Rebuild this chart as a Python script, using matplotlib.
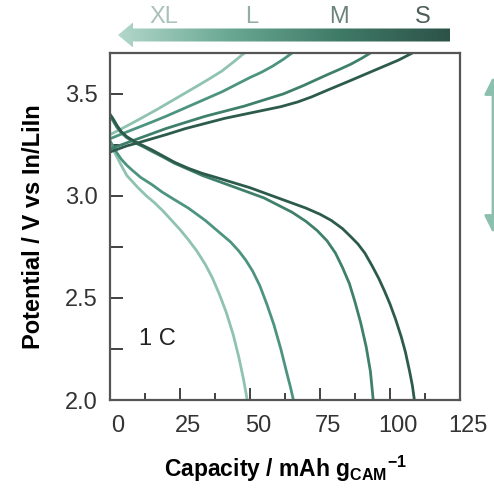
import numpy as np
import matplotlib
matplotlib.use("Agg")
import matplotlib.pyplot as plt
from matplotlib.patches import Polygon
from matplotlib.colors import LinearSegmentedColormap
from matplotlib.transforms import ScaledTranslation

plt.rcParams['font.family'] = ['Liberation Sans', 'DejaVu Sans']
plt.rcParams['mathtext.fontset'] = 'custom'
plt.rcParams['mathtext.rm'] = 'Liberation Sans'
plt.rcParams['mathtext.bf'] = 'Liberation Sans:bold'

# particle size series, drawn light -> dark
sizes = ['XL', 'L', 'M', 'S']
colors = ['#8fc3b0', '#4d9480', '#3f806c', '#2c5b4c']

# charge curves (capacity mAh/g, potential V)
cap_chg_XL = [0, 4, 8, 12, 17, 22, 27, 32, 36, 40, 44, 48]
v_chg_XL = [3.30, 3.328, 3.357, 3.387, 3.425, 3.465, 3.505, 3.545, 3.578, 3.612, 3.655, 3.70]
cap_chg_L = [0, 5, 10, 15, 20, 25, 30, 35, 40, 45, 50, 54, 58, 62, 65]
v_chg_L = [3.28, 3.308, 3.335, 3.362, 3.39, 3.42, 3.45, 3.48, 3.51, 3.545, 3.58, 3.605, 3.635, 3.67, 3.70]
cap_chg_M = [0, 3, 6, 10, 15, 20, 27, 34, 41, 48, 55, 62, 69, 77, 82, 86, 90, 93]
v_chg_M = [3.23, 3.245, 3.26, 3.28, 3.305, 3.33, 3.36, 3.39, 3.415, 3.44, 3.47, 3.50, 3.54, 3.59,
           3.62, 3.645, 3.675, 3.70]
cap_chg_S = [0, 3, 6, 10, 15, 20, 27, 34, 41, 48, 55, 61, 67, 72, 78, 85, 91, 97, 103, 108]
v_chg_S = [3.215, 3.23, 3.245, 3.26, 3.28, 3.30, 3.33, 3.355, 3.38, 3.40, 3.42, 3.437, 3.46,
           3.485, 3.52, 3.56, 3.595, 3.63, 3.665, 3.70]

# discharge curves
cap_dis_XL = [0, 1, 2.5, 4, 6, 8, 10, 13, 16, 19, 22, 25, 28, 31, 34, 36.5, 39, 41.5, 44, 46,
              47.7, 49]
v_dis_XL = [3.26, 3.23, 3.19, 3.15, 3.10, 3.07, 3.04, 3.00, 2.965, 2.925, 2.88, 2.835, 2.785,
            2.73, 2.665, 2.60, 2.52, 2.43, 2.32, 2.21, 2.10, 2.00]
cap_dis_L = [0, 1, 2.5, 4, 6, 8, 11, 15, 18.5, 22, 25, 28, 31, 34, 37, 40, 43, 46, 48.5, 51,
             53.5, 56, 58.5, 61, 63, 64.5, 65.5]
v_dis_L = [3.27, 3.245, 3.21, 3.18, 3.15, 3.125, 3.09, 3.055, 3.02, 2.99, 2.965, 2.94, 2.91,
           2.88, 2.845, 2.81, 2.775, 2.73, 2.685, 2.63, 2.56, 2.47, 2.37, 2.25, 2.14, 2.06, 2.00]
cap_dis_M = [0, 1, 2.5, 4, 6, 9, 12, 15, 19, 23, 28, 33, 38, 44, 50, 55, 60, 65, 70, 74, 77.5,
             80.5, 83, 85.5, 87.5, 89.5, 91.5, 93, 94]
v_dis_M = [3.39, 3.37, 3.335, 3.31, 3.285, 3.26, 3.24, 3.218, 3.19, 3.16, 3.13, 3.10, 3.075,
           3.045, 3.015, 2.99, 2.955, 2.92, 2.875, 2.83, 2.78, 2.72, 2.65, 2.57, 2.48, 2.38,
           2.26, 2.14, 2.00]
cap_dis_S = [0, 1, 2.5, 4, 6, 9, 12, 15, 19, 23, 28, 33, 38, 44, 50, 55, 61, 66, 70, 75, 79, 83,
             86, 88.5, 91, 93.5, 96, 98, 100, 102, 104, 105.5, 107, 108, 108.7]
v_dis_S = [3.40, 3.38, 3.345, 3.315, 3.29, 3.265, 3.245, 3.225, 3.195, 3.165, 3.135, 3.11, 3.09,
           3.065, 3.04, 3.015, 2.985, 2.96, 2.94, 2.91, 2.88, 2.84, 2.80, 2.765, 2.72, 2.66,
           2.595, 2.535, 2.47, 2.395, 2.31, 2.235, 2.14, 2.07, 2.00]

charge = {'XL': (cap_chg_XL, v_chg_XL), 'L': (cap_chg_L, v_chg_L),
          'M': (cap_chg_M, v_chg_M), 'S': (cap_chg_S, v_chg_S)}
discharge = {'XL': (cap_dis_XL, v_dis_XL), 'L': (cap_dis_L, v_dis_L),
             'M': (cap_dis_M, v_dis_M), 'S': (cap_dis_S, v_dis_S)}

xticks = [0, 25, 50, 75, 100, 125]
yticks = [2.0, 2.5, 3.0, 3.5]

fig = plt.figure(figsize=(4.94, 4.88), dpi=100)
ax = fig.add_axes([0.2227, 0.1803, 0.7085, 0.7111])

for name, col in zip(sizes, colors):
    for data in (charge, discharge):
        x, y = data[name]
        ax.plot(x, y, color=col, lw=2.0, solid_capstyle='round', solid_joinstyle='round')

ax.set_xlim(0, 125)
ax.set_ylim(2.0, 3.7)
ax.set_xticks(xticks)
ax.set_xticks(np.arange(0, 126, 12.5), minor=True)
ax.set_yticks(yticks)
ax.set_yticklabels(['%.1f' % v for v in yticks])
ax.set_yticks(np.arange(2.0, 3.71, 0.25), minor=True)
ax.tick_params(which='both', direction='in', width=1.3, colors='#333333', labelsize=17)
ax.tick_params(axis='x', which='major', length=9, pad=11)
ax.tick_params(axis='x', which='minor', length=5)
ax.tick_params(axis='y', which='both', length=9, pad=9)
for sp in ax.spines.values():
    sp.set_color('#555555')
    sp.set_linewidth(1.6)
for lab in ax.get_xticklabels():
    lab.set_transform(lab.get_transform() + ScaledTranslation(0.08, 0, fig.dpi_scale_trans))

ax.set_xlabel(r'Capacity / mAh g$_\mathbf{CAM}$$^{\mathbf{-1}}$', fontsize=16.5,
              fontweight='bold', labelpad=12)
ax.set_ylabel('Potential / V vs In/LiIn', fontsize=17, fontweight='bold', labelpad=14)
ax.text(10.5, 2.30, '1 C', fontsize=17, ha='left', va='center', color='#222222')

# overlay in figure pixel coordinates for the decorations
oax = fig.add_axes([0, 0, 1, 1], facecolor='none')
oax.set_axis_off()
grad = np.linspace(0, 1, 256).reshape(1, -1)
cmap = LinearSegmentedColormap.from_list('g', ['#b3d7ca', '#6aa893', '#3f7a67', '#2d5247'])
im = oax.imshow(grad, extent=[118, 450, 47, 22], cmap=cmap, aspect='auto')
arrow = Polygon([(118, 35), (133, 22.5), (133, 28.5), (450, 28.5), (450, 41.5),
                 (133, 41.5), (133, 47.5)], closed=True, transform=oax.transData,
                facecolor='none', edgecolor='none')
oax.add_patch(arrow)
im.set_clip_path(arrow)

for lab, xp, tc in zip(['XL', 'L', 'M', 'S'], [164, 252, 339, 423],
                       ['#a9c2b8', '#93ada2', '#6b8379', '#4d5d57']):
    oax.text(xp, 17, lab, fontsize=17, ha='center', va='center', color=tc)

oax.annotate('', xy=(493, 77), xytext=(493, 233), annotation_clip=False,
             arrowprops=dict(arrowstyle='<|-|>,head_length=0.8,head_width=0.4',
                             color='#8cc0ae', lw=2, mutation_scale=13,
                             shrinkA=0, shrinkB=0))
oax.set_xlim(0, 494)
oax.set_ylim(488, 0)

fig.savefig('out.png', dpi=100)
